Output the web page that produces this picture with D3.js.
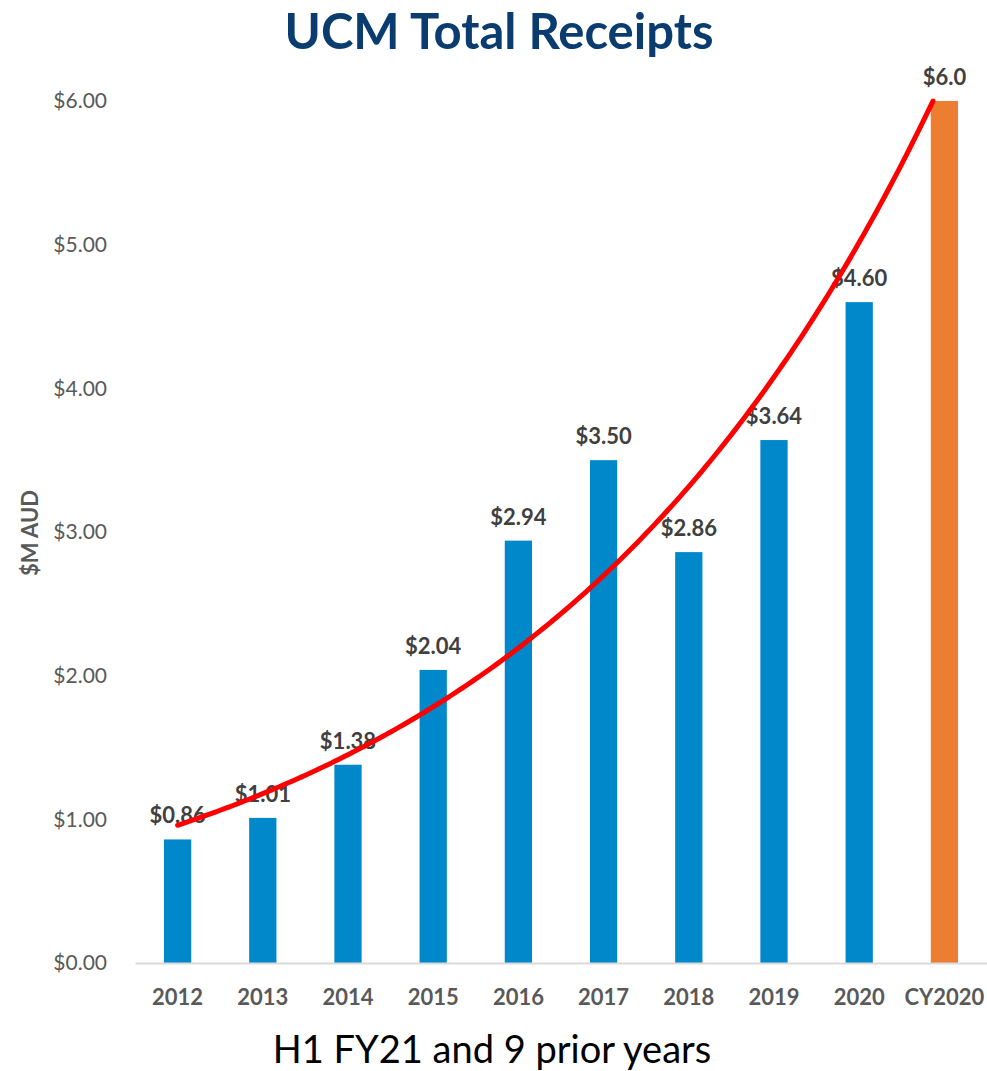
<!DOCTYPE html>
<html>
<head>
<meta charset="utf-8">
<script src="https://cdn.jsdelivr.net/npm/d3@7"></script>
<style>
  body { margin: 0; background: #fff; }
  svg { font-family: Lato, "Open Sans", sans-serif; }
</style>
</head>
<body>
<div id="chart"></div>
<script>
const categories = ['2012', '2013', '2014', '2015', '2016', '2017', '2018', '2019', '2020', 'CY2020'];
const receipts = [0.86, 1.01, 1.38, 2.04, 2.94, 3.50, 2.86, 3.64, 4.60, 6.0];
const valueLabels = ['$0.86', '$1.01', '$1.38', '$2.04', '$2.94', '$3.50', '$2.86', '$3.64', '$4.60', '$6.0'];
const yTicks = [0, 1, 2, 3, 4, 5, 6];

const width = 987, height = 1071;
const margin = { top: 101, right: 0, bottom: 108, left: 135 };
const innerW = width - margin.left - margin.right;
const innerH = height - margin.top - margin.bottom;

const svg = d3.select('#chart').append('svg')
  .attr('width', width).attr('height', height);

svg.append('text')
  .attr('x', 499).attr('y', 49)
  .attr('text-anchor', 'middle')
  .attr('font-size', 49).attr('font-weight', 'bold')
  .attr('fill', '#0b3c6f')
  .text('UCM Total Receipts');

const g = svg.append('g')
  .attr('transform', 'translate(' + margin.left + ',' + margin.top + ')');

const x = d3.scaleBand()
  .domain(categories)
  .range([0, innerW])
  .paddingInner(0.68).paddingOuter(0.34);
const y = d3.scaleLinear()
  .domain([0, 6])
  .range([innerH, 0]);

// y axis labels (no line)
g.append('g')
  .selectAll('text')
  .data(yTicks)
  .enter().append('text')
  .attr('x', -28)
  .attr('y', d => y(d))
  .attr('dy', '0.35em')
  .attr('text-anchor', 'end')
  .attr('font-size', 21)
  .attr('fill', '#595959')
  .text(d => '$' + d.toFixed(2));

// y axis title
svg.append('text')
  .attr('transform', 'translate(38,533) rotate(-90)')
  .attr('text-anchor', 'middle')
  .attr('font-size', 22).attr('font-weight', 'bold')
  .attr('fill', '#595959')
  .text('$M AUD');

// bars
g.selectAll('.bar')
  .data(receipts)
  .enter().append('rect')
  .attr('class', 'bar')
  .attr('x', (d, i) => x(categories[i]))
  .attr('width', x.bandwidth())
  .attr('y', d => y(d))
  .attr('height', d => innerH - y(d))
  .attr('fill', (d, i) => categories[i] === 'CY2020' ? '#ed7d31' : '#0088ca');

// x axis
const xAxis = g.append('g')
  .attr('transform', 'translate(0,' + innerH + ')')
  .call(d3.axisBottom(x).tickSize(0).tickPadding(26));
xAxis.select('.domain').attr('stroke', '#d9d9d9').attr('stroke-width', 2);
xAxis.selectAll('text')
  .attr('font-family', 'Lato, "Open Sans", sans-serif')
  .attr('font-size', 22).attr('font-weight', 'bold')
  .attr('fill', '#595959');

// data labels
g.selectAll('.label')
  .data(receipts)
  .enter().append('text')
  .attr('class', 'label')
  .attr('x', (d, i) => x(categories[i]) + x.bandwidth() / 2)
  .attr('y', d => y(d) - 16)
  .attr('text-anchor', 'middle')
  .attr('font-size', 22).attr('font-weight', 'bold')
  .attr('fill', '#404040')
  .text((d, i) => valueLabels[i]);

// exponential trendline fitted to the receipts
const idx = receipts.map((d, i) => i);
const lnv = receipts.map(Math.log);
const mx = d3.mean(idx), my = d3.mean(lnv);
const b = d3.sum(idx, i => (i - mx) * (lnv[i] - my)) / d3.sum(idx, i => (i - mx) * (i - mx));
const a = Math.exp(my - b * mx);
const tMax = Math.min(idx.length - 1, Math.log(y.domain()[1] / a) / b);
const trend = d3.range(0, tMax, 0.05).concat([tMax]).map(t => [t, a * Math.exp(b * t)]);
const step = x.step();
const x0 = x(categories[0]) + x.bandwidth() / 2;

g.append('path')
  .datum(trend)
  .attr('fill', 'none')
  .attr('stroke', '#ff0000')
  .attr('stroke-width', 5)
  .attr('stroke-linecap', 'round')
  .attr('d', d3.line().x(d => x0 + d[0] * step).y(d => y(d[1])));

// x axis title
svg.append('text')
  .attr('x', 492).attr('y', 1063)
  .attr('text-anchor', 'middle')
  .attr('font-size', 38)
  .attr('fill', '#000')
  .text('H1 FY21 and 9 prior years');
</script>
</body>
</html>
